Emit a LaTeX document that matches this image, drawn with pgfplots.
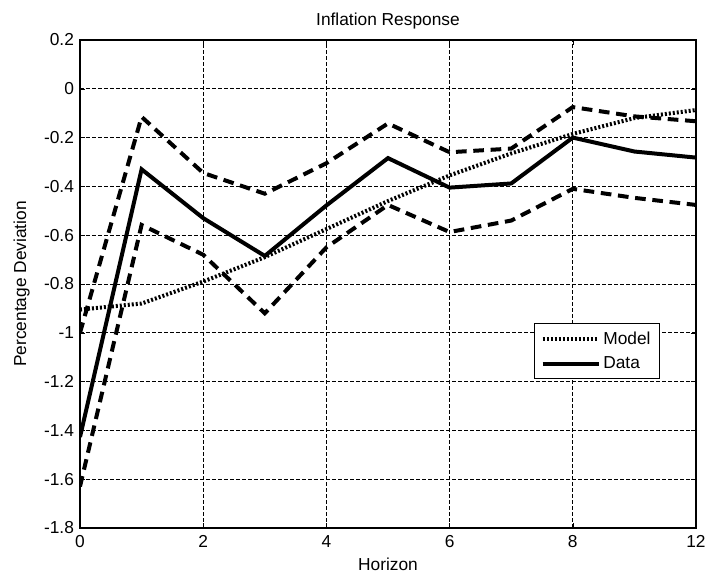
\documentclass[border=0pt]{standalone}
\usepackage{fontspec}
\setmainfont{Liberation Sans}
\usepackage{pgfplots}
\pgfplotsset{compat=1.18}

\pgfplotstableread{
h  model   data    upper   lower
0  -0.905  -1.427  -1.000  -1.630
1  -0.880  -0.330  -0.115  -0.558
2  -0.790  -0.530  -0.345  -0.680
3  -0.690  -0.685  -0.430  -0.920
4  -0.575  -0.478  -0.305  -0.650
5  -0.460  -0.284  -0.142  -0.476
6  -0.355  -0.405  -0.260  -0.587
7  -0.265  -0.388  -0.245  -0.540
8  -0.185  -0.200  -0.075  -0.410
9  -0.120  -0.257  -0.113  -0.447
10 -0.087  -0.282  -0.133  -0.476
}\irf

\begin{document}
\begin{tikzpicture}
\begin{axis}[
    scale only axis,
    width=462pt, height=366pt,
    xmin=0, xmax=10, ymin=-1.8, ymax=0.2,
    xtick={0,2,4,6,8,10},
    xticklabels={0,2,4,6,8,12},
    ytick={-1.8,-1.6,...,0.2},
    yticklabel style={/pgf/number format/fixed, xshift=-1pt},
    xticklabel style={yshift=-2pt},
    /pgf/number format/assume math mode=true,
    tick label style={font=\fontsize{13}{15}\selectfont},
    label style={font=\fontsize{13}{15}\selectfont},
    xlabel style={yshift=-1pt},
    ylabel style={yshift=4pt},
    title style={font=\fontsize{13}{15}\selectfont, yshift=-1pt},
    title={Inflation Response},
    xlabel={Horizon},
    ylabel={Percentage Deviation},
    grid=major,
    major grid style={black, line width=0.5pt, dash pattern=on 3pt off 1.5pt},
    axis line style={black, line width=0.9pt},
    tick align=inside,
    major tick length=4pt,
    tick style={black},
    legend cell align=left,
    legend style={at={(0.942,0.42)}, anchor=north east,
        font=\fontsize{13}{15}\selectfont,
        draw=black, line width=0.6pt, fill=white,
        inner xsep=5pt, inner ysep=4pt, row sep=4pt},
    legend image code/.code={\draw[#1] (0pt,0pt) -- (42pt,0pt);},
]
\addplot[black, line width=3pt, line cap=butt, dash pattern=on 1.5pt off 1.5pt] table[x=h, y=model] {\irf};
\addlegendentry{Model}
\addplot[black, line width=3pt, line join=miter] table[x=h, y=data] {\irf};
\addlegendentry{Data}
\addplot[black, line width=3pt, line cap=butt, dash pattern=on 8pt off 5pt, forget plot] table[x=h, y=upper] {\irf};
\addplot[black, line width=3pt, line cap=butt, dash pattern=on 8pt off 5pt, forget plot] table[x=h, y=lower] {\irf};
\end{axis}
\pgfresetboundingbox
\path (current axis.south west) ++(-60pt,-38pt) coordinate (bl);
\path (current axis.north east) ++(9pt,30pt) coordinate (tr);
\useasboundingbox (bl) rectangle (tr);
\end{tikzpicture}
\end{document}
